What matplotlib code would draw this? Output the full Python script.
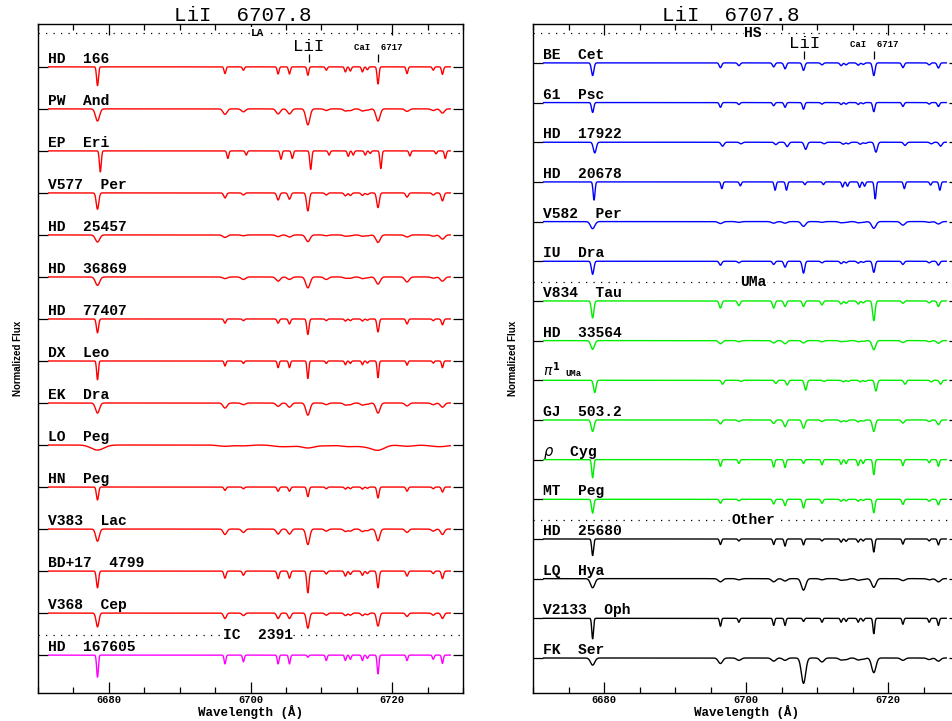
import numpy as np
import matplotlib
matplotlib.use("Agg")
import matplotlib.pyplot as plt
from matplotlib.ticker import MultipleLocator

# absorption lines seen in every spectrum (wavelength, A)
lines = [6678.4, 6696.4, 6699.0, 6703.9, 6705.5, 6708.1, 6710.7, 6713.4,
         6714.1, 6715.8, 6716.5, 6718.0, 6722.1, 6725.8, 6727.1]

# ---- left panel: LA members + IC 2391 ----
left_names = ["HD  166", "PW  And", "EP  Eri", "V577  Per", "HD  25457",
              "HD  36869", "HD  77407", "DX  Leo", "EK  Dra", "LO  Peg",
              "HN  Peg", "V383  Lac", "BD+17  4799", "V368  Cep", "HD  167605"]
left_colors = ["red"] * 14 + ["magenta"]
left_width = [0.13, 0.28, 0.13, 0.18, 0.30, 0.30, 0.15, 0.12, 0.28, 0.90,
              0.15, 0.25, 0.15, 0.20, 0.12]
left_shift = [0, 0, 0.4, 0, 0, 0, 0, 0, 0, 0, 0, 0, 0, 0, 0]
left_depth = [
    [0.45, 0.16, 0.08, 0.17, 0.17, 0.20, 0.08, 0.12, 0.10, 0.12, 0.07, 0.41, 0.16, 0.08, 0.18],
    [0.29, 0.13, 0.07, 0.12, 0.12, 0.38, 0.04, 0.05, 0.04, 0.05, 0.03, 0.29, 0.06, 0.04, 0.10],
    [0.50, 0.18, 0.10, 0.20, 0.18, 0.44, 0.10, 0.13, 0.10, 0.10, 0.06, 0.42, 0.12, 0.07, 0.18],
    [0.39, 0.12, 0.05, 0.17, 0.15, 0.43, 0.05, 0.07, 0.06, 0.06, 0.04, 0.35, 0.10, 0.05, 0.19],
    [0.17, 0.06, 0.02, 0.04, 0.05, 0.16, 0.02, 0.03, 0.02, 0.03, 0.02, 0.18, 0.05, 0.03, 0.10],
    [0.20, 0.04, 0.06, 0.10, 0.06, 0.26, 0.06, 0.03, 0.03, 0.04, 0.02, 0.17, 0.12, 0.03, 0.10],
    [0.33, 0.10, 0.04, 0.10, 0.12, 0.37, 0.04, 0.05, 0.04, 0.05, 0.03, 0.31, 0.12, 0.04, 0.14],
    [0.45, 0.12, 0.06, 0.16, 0.16, 0.42, 0.06, 0.09, 0.06, 0.09, 0.05, 0.40, 0.10, 0.05, 0.16],
    [0.24, 0.12, 0.04, 0.08, 0.10, 0.29, 0.04, 0.05, 0.04, 0.05, 0.03, 0.24, 0.07, 0.04, 0.10],
    [0.12, 0.03, 0.02, 0.03, 0.03, 0.07, 0.02, 0.02, 0.02, 0.02, 0.02, 0.12, 0.03, 0.02, 0.03],
    [0.31, 0.08, 0.04, 0.10, 0.10, 0.23, 0.04, 0.05, 0.04, 0.05, 0.03, 0.26, 0.10, 0.04, 0.12],
    [0.29, 0.13, 0.08, 0.12, 0.12, 0.37, 0.05, 0.06, 0.05, 0.06, 0.04, 0.28, 0.08, 0.05, 0.13],
    [0.40, 0.17, 0.10, 0.18, 0.17, 0.52, 0.07, 0.12, 0.08, 0.10, 0.06, 0.40, 0.12, 0.06, 0.18],
    [0.33, 0.13, 0.06, 0.13, 0.13, 0.36, 0.05, 0.06, 0.05, 0.06, 0.04, 0.31, 0.08, 0.05, 0.13],
    [0.53, 0.21, 0.16, 0.21, 0.21, 0.05, 0.13, 0.13, 0.10, 0.13, 0.08, 0.45, 0.13, 0.10, 0.20],
]
left_groups = [("LA", 0.81, 8), ("IC  2391", -13.52, 10.5)]

# ---- right panel: HS, UMa, Other ----
right_names = ["BE  Cet", "61  Psc", "HD  17922", "HD  20678", "V582  Per",
               "IU  Dra", "V834  Tau", "HD  33564", "PI1", "GJ  503.2",
               r"$\rho$  Cyg", "MT  Peg", "HD  25680", "LQ  Hya",
               "V2133  Oph", "FK  Ser"]
right_colors = ["blue"] * 6 + ["#00ee00"] * 6 + ["black"] * 4
right_width = [0.17, 0.15, 0.20, 0.13, 0.30, 0.17, 0.17, 0.25, 0.17, 0.20,
               0.13, 0.15, 0.13, 0.30, 0.12, 0.30]
right_shift = [0, 0, 0.3, 0.2, 0, 0, 0, 0, 0.3, 0, 0, 0, 0, 0, 0, 0]
right_depth = [
    [0.32, 0.12, 0.07, 0.10, 0.15, 0.19, 0.05, 0.07, 0.05, 0.06, 0.04, 0.32, 0.12, 0.05, 0.13],
    [0.25, 0.12, 0.05, 0.08, 0.12, 0.17, 0.04, 0.05, 0.04, 0.05, 0.03, 0.23, 0.10, 0.04, 0.10],
    [0.27, 0.10, 0.04, 0.06, 0.11, 0.18, 0.04, 0.05, 0.04, 0.05, 0.03, 0.25, 0.08, 0.04, 0.10],
    [0.46, 0.17, 0.10, 0.21, 0.21, 0.07, 0.07, 0.13, 0.11, 0.14, 0.11, 0.43, 0.17, 0.08, 0.21],
    [0.18, 0.05, 0.02, 0.04, 0.04, 0.12, 0.02, 0.03, 0.02, 0.03, 0.02, 0.17, 0.09, 0.02, 0.06],
    [0.33, 0.10, 0.04, 0.08, 0.15, 0.30, 0.04, 0.06, 0.04, 0.05, 0.03, 0.28, 0.08, 0.04, 0.10],
    [0.43, 0.18, 0.12, 0.18, 0.14, 0.14, 0.10, 0.08, 0.06, 0.08, 0.05, 0.50, 0.06, 0.05, 0.14],
    [0.22, 0.08, 0.03, 0.06, 0.08, 0.06, 0.03, 0.03, 0.02, 0.03, 0.02, 0.23, 0.05, 0.03, 0.07],
    [0.31, 0.10, 0.03, 0.08, 0.12, 0.25, 0.03, 0.04, 0.03, 0.04, 0.03, 0.27, 0.10, 0.04, 0.10],
    [0.29, 0.10, 0.04, 0.09, 0.17, 0.21, 0.04, 0.05, 0.04, 0.05, 0.03, 0.29, 0.08, 0.04, 0.12],
    [0.46, 0.17, 0.10, 0.19, 0.20, 0.10, 0.13, 0.12, 0.10, 0.15, 0.10, 0.38, 0.15, 0.08, 0.17],
    [0.35, 0.10, 0.04, 0.12, 0.16, 0.22, 0.10, 0.05, 0.04, 0.05, 0.03, 0.34, 0.13, 0.05, 0.14],
    [0.42, 0.14, 0.05, 0.14, 0.18, 0.15, 0.05, 0.08, 0.06, 0.08, 0.05, 0.33, 0.13, 0.05, 0.15],
    [0.23, 0.08, 0.03, 0.08, 0.06, 0.29, 0.03, 0.04, 0.03, 0.04, 0.02, 0.22, 0.05, 0.03, 0.08],
    [0.52, 0.20, 0.10, 0.18, 0.18, 0.08, 0.10, 0.10, 0.08, 0.10, 0.07, 0.39, 0.15, 0.10, 0.18],
    [0.18, 0.14, 0.06, 0.08, 0.06, 0.64, 0.10, 0.05, 0.04, 0.05, 0.03, 0.37, 0.06, 0.04, 0.08],
]
right_groups = [("HS", 0.76, 10.5), ("UMa", -5.52, 10.5), ("Other", -11.51, 10.5)]

MONO = "Liberation Mono"
wl = np.linspace(6671.5, 6728.2, 1500)

fig = plt.figure(figsize=(9.53, 7.21), dpi=100)
ax1 = fig.add_axes([38 / 953, 28.5 / 721, 425 / 953, 668.5 / 721])
ax2 = fig.add_axes([533 / 953, 28.5 / 721, 426 / 953, 668.5 / 721])


def draw_panel(ax, names, colors, widths, shifts, depths, groups, ylim, title_x):
    levels = -np.arange(len(names))
    for lev, nm, c, s, sh, dep in zip(levels, names, colors, widths, shifts, depths):
        flux = np.zeros_like(wl)
        for l0, d in zip(lines, dep):
            flux -= d * np.exp(-0.5 * ((wl - l0 - sh) / s) ** 2)
        ax.plot(wl, lev + flux, color=c, lw=1.0)
        if nm == "PI1":
            ax.text(6671.4, lev + 0.1, r"$\pi^{\mathbf{1}}$", fontsize=10,
                    va="baseline", ha="left")
            ax.text(6674.6, lev + 0.1, "UMa", fontsize=6.5, family=MONO,
                    weight="bold", va="baseline", ha="left")
        else:
            ax.text(6671.4, lev + 0.1, nm, fontsize=10.5, family=MONO,
                    weight="bold", va="baseline", ha="left")

    for txt, y, fs in groups:
        ax.axhline(y, color="black", lw=0.9, ls=(0, (1, 5)))
        ax.text(6701.0, y, txt, fontsize=fs, family=MONO, weight="bold",
                ha="center", va="center",
                bbox=dict(facecolor="white", edgecolor="none", pad=0.5))

    # LiI and CaI markers above the first spectrum
    ax.vlines([6708.2, 6718.0], 0.11, 0.30, color="black", lw=0.9)
    ax.text(6708.2, 0.37, "LiI", fontsize=12.5, family=MONO,
            ha="center", va="baseline")
    ax.text(6718.0, 0.39, "CaI  6717", fontsize=6.5, family=MONO,
            weight="bold", ha="center", va="baseline")

    ax.text(title_x, 1.004, "LiI  6707.8", fontsize=15, family=MONO,
            ha="center", va="baseline", transform=ax.transAxes)

    ax.set_xlim(6670, 6730)
    ax.set_ylim(*ylim)
    ax.set_yticks(levels)
    ax.set_yticklabels([])
    ax.xaxis.set_major_locator(MultipleLocator(20))
    ax.xaxis.set_minor_locator(MultipleLocator(5))
    ax.tick_params(axis="x", which="major", direction="in", length=8, width=0.9,
                   top=True, bottom=True, pad=2, labelsize=7.5)
    ax.tick_params(axis="x", which="minor", direction="in", length=4, width=0.9,
                   top=True, bottom=True)
    ax.tick_params(axis="y", which="major", direction="in", length=7, width=0.9,
                   left=True, right=True)
    for lab in ax.get_xticklabels():
        lab.set_family(MONO)
        lab.set_weight("bold")
    for sp in ax.spines.values():
        sp.set_linewidth(1.0)
    ax.set_xlabel("Wavelength (Å)", fontsize=9, family=MONO, weight="bold",
                  labelpad=0)
    ax.set_ylabel("Normalized Flux", fontsize=7, family="Liberation Sans",
                  weight="bold", labelpad=7)


draw_panel(ax1, left_names, left_colors, left_width, left_shift, left_depth,
           left_groups, (-14.89, 1.02), 0.482)
draw_panel(ax2, right_names, right_colors, right_width, right_shift, right_depth,
           right_groups, (-15.87, 0.98), 0.464)

fig.savefig("out.png", dpi=100)
